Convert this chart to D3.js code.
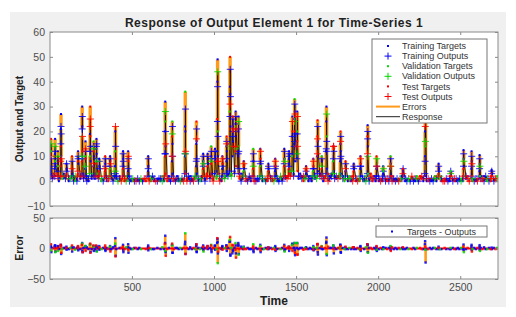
<!DOCTYPE html>
<html>
<head>
<meta charset="utf-8">
<script src="https://cdn.jsdelivr.net/npm/d3@7"></script>
<style>
  body { margin: 0; background: #fff; }
  text { font-family: "Liberation Sans", Arial, sans-serif; }
</style>
</head>
<body>
<svg id="chart" width="516" height="317"></svg>
<script>
// time steps and baseline samples (one every 10 steps, starting at t=5)
const nSteps = 2730
const baseStep = 10
const baseTargets = [
  "1231202132", "1021201213", "2120312102", "1010201120", "1021102010",
  "0110100101", "1010011020", "1020101201", "0101120110", "1020131201",
  "2131022132", "3142213120", "1102010110", "0101201100", "1121213232",
  "2132021020", "2121320213", "2312123120", "1020210102", "1020130201",
  "0102101020", "1010200100", "1102021020", "0101201100", "1000110010",
  "1021202010", "1020210100", "102"].join("")
const baseOutputs = [
  "2120311221", "0112020121", "1201120211", "0101110201", "2010210101",
  "1001010110", "0121001101", "0110210110", "1010201021", "0112020110",
  "1220131221", "2231120211", "0211001101", "1010110210", "2012122123",
  "1221210111", "1210231120", "1221212211", "0111021010", "1101021110",
  "1011010101", "0101101010", "2011012101", "1010110210", "0101001101",
  "0112101101", "0111021010", "011"].join("")

// spikes: first time step, then targets / outputs at consecutive steps
const spikeStart = [5, 30, 47, 65, 100, 134, 170, 195, 215, 244, 265, 282, 300, 336, 366, 397, 445, 476,
  598, 701, 744, 823, 891, 933, 960, 982, 1005, 1019, 1050, 1075, 1095, 1112, 1130, 1147, 1180,
  1238, 1281, 1330, 1372, 1427, 1455, 1475, 1489, 1505, 1560, 1604, 1629, 1655, 1683, 1726, 1769,
  1800, 1850, 1891, 1934, 1989, 2030, 2074, 2150, 2285, 2367, 2440, 2519, 2568, 2617, 2690]
const spikeTargets = [
  [4, 9, 17, 12, 3], [5, 11, 17, 8, 2], [3, 8, 12, 6], [6, 14, 21, 27, 10, 2], [3, 7, 5], [4, 10, 3],
  [3, 8, 12, 7], [8, 18, 30, 22, 12, 3], [5, 10, 16, 9], [10, 19, 30, 18, 8], [6, 12, 16, 10],
  [7, 13, 17, 11, 3], [4, 9, 6], [4, 10, 7, 2], [5, 10, 8, 2], [6, 12, 20, 9, 2], [5, 12, 9, 2],
  [4, 12, 8, 2], [4, 10, 6], [10, 20, 32, 24, 14, 3], [8, 18, 24, 15, 3], [10, 22, 36, 20, 3],
  [6, 15, 24, 16, 3], [5, 11, 8, 2], [6, 11, 9], [7, 14, 10, 3], [8, 13, 10],
  [12, 25, 40, 49, 20, 10, 3], [5, 10, 7], [8, 14, 18, 12], [15, 28, 38, 50, 35, 22],
  [10, 20, 26, 22, 16], [12, 22, 28, 18, 6], [10, 20, 26, 14, 3], [4, 8, 6], [5, 13, 8, 2],
  [6, 13, 9, 2], [4, 7, 5], [4, 9, 6, 2], [6, 13, 9, 3], [5, 9, 12, 7], [10, 18, 26, 20],
  [15, 25, 33, 28, 20, 8], [10, 20, 28, 16, 4], [3, 6, 4], [4, 9, 6, 2], [10, 18, 24.5, 16, 4],
  [5, 10, 8], [12, 24, 30, 18, 5], [8, 14, 14, 13, 4], [8, 15, 20, 12, 3], [4, 8, 6], [4, 7, 5],
  [5, 10, 7, 2], [10, 18, 22.5, 14, 3], [5, 10, 7, 2], [3, 6, 4], [5, 10, 7, 2], [3, 5, 4],
  [10, 20, 25, 14, 2], [3, 7, 5], [2, 4, 3], [5, 12.5, 9, 2], [5, 12, 8, 2], [4, 10.5, 7, 2],
  [2, 4.5, 3]]
const spikeOutputs = [
  [2, 5, 10, 15, 9], [2, 6, 12, 14, 7], [2, 4, 9, 10], [2, 8, 15, 22, 19, 9], [2, 4, 7], [2, 5, 8],
  [2, 4, 9, 10], [2, 10, 21, 26, 18, 9], [2, 6, 12, 13], [3, 12, 22, 25, 14], [2, 7, 13, 14],
  [2, 9, 14, 15, 8], [2, 5, 8], [2, 5, 9, 6], [2, 6, 9, 7], [2, 4, 3, 22, 14], [2, 6, 11, 8],
  [2, 5, 10, 9], [2, 5, 9], [2, 11, 11, 28, 20, 15], [2, 10, 19, 22, 10], [3, 11, 11, 29, 12],
  [2, 8, 17, 21, 9], [2, 6, 10, 7], [2, 7, 10], [2, 8, 12, 9], [3, 9, 12],
  [3, 8, 24, 38, 44, 18, 8], [2, 6, 9], [3, 9, 15, 16], [4, 14, 26, 31, 45, 34],
  [18, 14, 21, 25, 20], [14, 13, 23, 26, 21], [5, 11, 21, 24, 12], [2, 5, 7], [2, 6, 11, 8],
  [2, 7, 12, 8], [2, 5, 6], [2, 5, 8, 6], [2, 7, 12, 8], [2, 6, 10, 11], [4, 11, 18, 24],
  [14, 16, 24, 31, 27, 19], [9, 11, 19, 26, 14], [2, 4, 5], [2, 5, 8, 5], [3, 11, 17, 22, 14],
  [2, 6, 9], [3, 13, 12, 27, 16], [3, 9, 14, 14, 12], [2, 9, 16, 18, 10], [2, 5, 7], [2, 5, 6],
  [2, 6, 9, 6], [3, 11, 17, 20, 10], [2, 6, 9, 6], [2, 4, 5], [2, 6, 9, 6], [2, 3, 5],
  [3, 8, 22, 16, 25], [2, 4, 6], [2, 3, 4], [2, 6, 11, 8], [2, 6, 10, 7], [2, 5, 9, 6],
  [2, 3, 4]]

// which set each sample belongs to (T = training, V = validation, R = test)
const setPattern = "TTRVTTRTTTVTRTTVTRRT"

const xTicks = [500, 1000, 1500, 2000, 2500]
const yTicksTop = [-10, 0, 10, 20, 30, 40, 50, 60]
const yTicksErr = [-50, 0, 50]
const legendLabels = ["Training Targets", "Training Outputs", "Validation Targets", "Validation Outputs",
  "Test Targets", "Test Outputs", "Errors", "Response"]

const setColor = { T: "#0000ff", V: "#00d800", R: "#ff0000" }
const errColor = "#ff9a1a"

// build the samples
let points = []
spikeStart.forEach(function (s, k) {
  spikeTargets[k].forEach(function (v, j) {
    points.push({ t: s + j, target: v, output: spikeOutputs[k][j] })
  })
})
const busy = spikeStart.map((s, k) => [s - 3, s + spikeTargets[k].length + 2])
for (let i = 0; i < baseTargets.length; i++) {
  const t = 5 + i * baseStep
  if (busy.some(b => t >= b[0] && t <= b[1])) continue
  points.push({ t: t, target: +baseTargets[i], output: +baseOutputs[i] })
}
points.sort((a, b) => a.t - b.t)
points.forEach(function (p, i) {
  p.set = setPattern[i % setPattern.length]
  p.err = p.target - p.output
})

const svg = d3.select("#chart")
const L = 50, R = 498

// figure background
svg.append("rect").attr("x", 10).attr("y", 12).attr("width", 496).attr("height", 295).attr("fill", "#f0f0f0")

const x = d3.scaleLinear().domain([1, nSteps]).range([L, R])
const yTop = d3.scaleLinear().domain([-10, 60]).range([206, 32])
const yErr = d3.scaleLinear().domain([-50, 50]).range([279, 218])

function plusPath(cx, cy, r) {
  return `M${cx - r},${cy}H${cx + r}M${cx},${cy - r}V${cy + r}`
}

function drawFrame(y, ticksY, top, bottom, showX) {
  svg.append("rect").attr("x", L).attr("y", top).attr("width", R - L).attr("height", bottom - top).attr("fill", "#fff")
  return function () {
    const g = svg.append("g").attr("class", "frame")
    const styleAxis = sel => {
      sel.select(".domain").remove()
      sel.selectAll(".tick line").attr("stroke", "#8a8a8a")
      sel.selectAll(".tick text").attr("fill", "#4d4d4d").style("font-size", "10.5px")
    }
    g.append("g").attr("transform", `translate(${L},0)`)
      .call(d3.axisLeft(y).tickValues(ticksY).tickSizeInner(-3).tickSizeOuter(0).tickPadding(5)).call(styleAxis)
    g.append("g").attr("transform", `translate(${R},0)`)
      .call(d3.axisRight(y).tickValues(ticksY).tickSizeInner(-3).tickSizeOuter(0).tickFormat("")).call(styleAxis)
    g.append("g").attr("transform", `translate(0,${top})`)
      .call(d3.axisTop(x).tickValues(xTicks).tickSizeInner(-3).tickSizeOuter(0).tickFormat("")).call(styleAxis)
    g.append("g").attr("transform", `translate(0,${bottom})`)
      .call(d3.axisBottom(x).tickValues(xTicks).tickSizeInner(-3).tickSizeOuter(0).tickPadding(5)
        .tickFormat(showX ? d3.format("d") : "")).call(styleAxis)
    g.selectAll("text").attr("font-family", "Liberation Sans, Arial, sans-serif")
    g.append("rect").attr("x", L).attr("y", top).attr("width", R - L).attr("height", bottom - top)
      .attr("fill", "none").attr("stroke", "#8a8a8a").attr("stroke-width", 1)
  }
}

// clip paths
const defs = svg.append("defs")
defs.append("clipPath").attr("id", "clipTop").append("rect").attr("x", L).attr("y", 32).attr("width", R - L).attr("height", 174)
defs.append("clipPath").attr("id", "clipErr").append("rect").attr("x", L).attr("y", 218).attr("width", R - L).attr("height", 61)

// ---------- top: response ----------
const finishTop = drawFrame(yTop, yTicksTop, 32, 206, false)
const gTop = svg.append("g").attr("clip-path", "url(#clipTop)")

gTop.append("g").selectAll("line").data(points).join("line")
  .attr("x1", d => x(d.t)).attr("x2", d => x(d.t))
  .attr("y1", d => yTop(d.target)).attr("y2", d => yTop(d.output))
  .attr("stroke", errColor).attr("stroke-width", 3.4)

gTop.append("path").datum(points)
  .attr("d", d3.line().x(d => x(d.t)).y(d => yTop(d.output)))
  .attr("fill", "none").attr("stroke", "#111").attr("stroke-width", 0.9)

;["T", "V", "R"].forEach(function (s) {
  const sub = points.filter(p => p.set === s)
  gTop.append("g").selectAll("rect").data(sub).join("rect")
    .attr("x", d => x(d.t) - 1).attr("y", d => yTop(d.target) - 1).attr("width", 2).attr("height", 2)
    .attr("fill", setColor[s])
  gTop.append("g").selectAll("path").data(sub).join("path")
    .attr("d", d => plusPath(x(d.t), yTop(d.output), 3.5))
    .attr("stroke", setColor[s]).attr("stroke-width", 1).attr("opacity", 0.85)
})
finishTop()

// legend (top)
const lg = svg.append("g")
lg.append("rect").attr("x", 372).attr("y", 39).attr("width", 115).attr("height", 84)
  .attr("fill", "#fff").attr("stroke", "#777").attr("stroke-width", 1)
const lgColors = [setColor.T, setColor.T, setColor.V, setColor.V, setColor.R, setColor.R]
legendLabels.forEach(function (lab, i) {
  const yy = 46 + i * 10.1
  if (i < 6) {
    if (i % 2 === 0) {
      lg.append("rect").attr("x", 387).attr("y", yy - 1).attr("width", 2).attr("height", 2).attr("fill", lgColors[i])
    } else {
      lg.append("path").attr("d", plusPath(388, yy, 3.5)).attr("stroke", lgColors[i]).attr("stroke-width", 1)
    }
  } else {
    lg.append("line").attr("x1", 376).attr("x2", 400).attr("y1", yy).attr("y2", yy)
      .attr("stroke", i === 6 ? errColor : "#222").attr("stroke-width", i === 6 ? 2 : 1)
  }
  lg.append("text").attr("x", 402).attr("y", yy).attr("dy", "0.35em")
    .style("font-size", "9px").attr("fill", "#333").text(lab)
})

// ---------- bottom: errors ----------
const finishErr = drawFrame(yErr, yTicksErr, 218, 279, true)
const gErr = svg.append("g").attr("clip-path", "url(#clipErr)")

gErr.append("g").selectAll("line").data(points).join("line")
  .attr("x1", d => x(d.t)).attr("x2", d => x(d.t))
  .attr("y1", yErr(0)).attr("y2", d => yErr(d.err))
  .attr("stroke", errColor).attr("stroke-width", 2.6)

gErr.append("line").attr("x1", L).attr("x2", R).attr("y1", yErr(0)).attr("y2", yErr(0))
  .attr("stroke", "#ff0000").attr("stroke-width", 2)

;["T", "V", "R"].forEach(function (s) {
  const sub = points.filter(p => p.set === s && p.err !== 0)
  gErr.append("g").selectAll("rect").data(sub).join("rect")
    .attr("x", d => x(d.t) - 1.2).attr("y", d => yErr(d.err) - 1.2).attr("width", 2.4).attr("height", 2.4)
    .attr("fill", setColor[s]).attr("opacity", 0.85)
})
finishErr()

// legend (bottom)
svg.append("rect").attr("x", 376).attr("y", 226).attr("width", 111).attr("height", 11)
  .attr("fill", "#fff").attr("stroke", "#777").attr("stroke-width", 1)
svg.append("rect").attr("x", 391).attr("y", 230.5).attr("width", 2).attr("height", 2).attr("fill", setColor.T)
svg.append("text").attr("x", 407).attr("y", 231.5).attr("dy", "0.35em")
  .style("font-size", "9px").attr("fill", "#333").text("Targets - Outputs")

// titles and labels
svg.append("text").attr("x", 274).attr("y", 27).attr("text-anchor", "middle")
  .style("font-size", "12px").style("font-weight", "bold").style("letter-spacing", "0.5px").attr("fill", "#222")
  .text("Response of Output Element 1 for Time-Series 1")
svg.append("text").attr("transform", "translate(19,119) rotate(-90)").attr("text-anchor", "middle")
  .attr("dy", "0.35em").style("font-size", "10px").style("font-weight", "bold").attr("fill", "#222")
  .text("Output and Target")
svg.append("text").attr("transform", "translate(19,248) rotate(-90)").attr("text-anchor", "middle")
  .attr("dy", "0.35em").style("font-size", "10.5px").style("font-weight", "bold").attr("fill", "#222")
  .text("Error")
svg.append("text").attr("x", 274).attr("y", 305).attr("text-anchor", "middle")
  .style("font-size", "12px").style("font-weight", "bold").attr("fill", "#222").text("Time")
</script>
</body>
</html>
